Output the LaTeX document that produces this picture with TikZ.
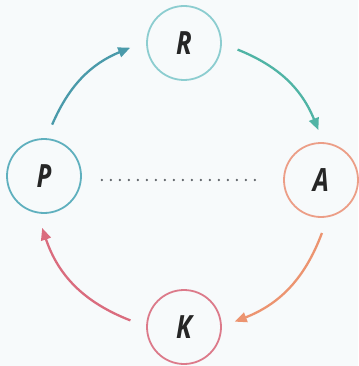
\documentclass[tikz,border=0pt]{standalone}
\usepackage{fontspec}
\usepackage{graphicx}
\newfontfamily\labfont{Open Sans}
\usetikzlibrary{arrows.meta}
\definecolor{bgc}{RGB}{247,250,251}
\definecolor{rcol}{RGB}{140,205,208}
\definecolor{pcol}{RGB}{95,176,190}
\definecolor{acol}{RGB}{236,158,135}
\definecolor{kcol}{RGB}{220,122,138}
\definecolor{prcol}{RGB}{74,154,170}
\definecolor{racol}{RGB}{80,180,165}
\definecolor{akcol}{RGB}{236,148,112}
\definecolor{kpcol}{RGB}{218,108,126}
\definecolor{dotcol}{RGB}{90,95,100}
\newcommand{\lett}[1]{\scalebox{0.8}[1]{\labfont\bfseries\itshape\fontsize{32}{32}\selectfont #1}}
\tikzset{
  letterbox/.style={circle, draw=#1, line width=1.8pt, minimum size=74pt, inner sep=0pt,
    text=black!85},
  cyclearrow/.style={draw=#1, line width=2.3pt, -{Triangle[length=12pt,width=10pt]}},
  dotline/.style={draw=dotcol, line width=2.6pt, line cap=round, dash pattern=on 0pt off 9pt}
}
\begin{document}
\begin{tikzpicture}[x=1pt,y=-1pt]
\fill[bgc] (0,0) rectangle (358,366);
\useasboundingbox (0,0) rectangle (358,366);
\node[letterbox=rcol] (R) at (184,43) {\lett{R}};
\node[letterbox=pcol] (P) at (44,176) {\lett{P}};
\node[letterbox=acol] (A) at (321,180) {\lett{A}};
\node[letterbox=kcol] (K) at (184,327) {\lett{K}};
\draw[cyclearrow=prcol] ([shift={(81:52pt)}]P.center) to[bend left=22] ([shift={(185:54pt)}]R.center);
\draw[cyclearrow=racol] ([shift={(-7:54pt)}]R.center) to[bend left=23] ([shift={(93:50pt)}]A.center);
\draw[cyclearrow=akcol] ([shift={(-89:53pt)}]A.center) to[bend left=24] ([shift={(6:51pt)}]K.center);
\draw[cyclearrow=kpcol] ([shift={(173:54pt)}]K.center) to[bend left=25] ([shift={(268:52pt)}]P.center);
\draw[dotline] ([xshift=20pt]P.east |- A.west) -- ([xshift=-22pt]A.west);
\end{tikzpicture}
\end{document}
